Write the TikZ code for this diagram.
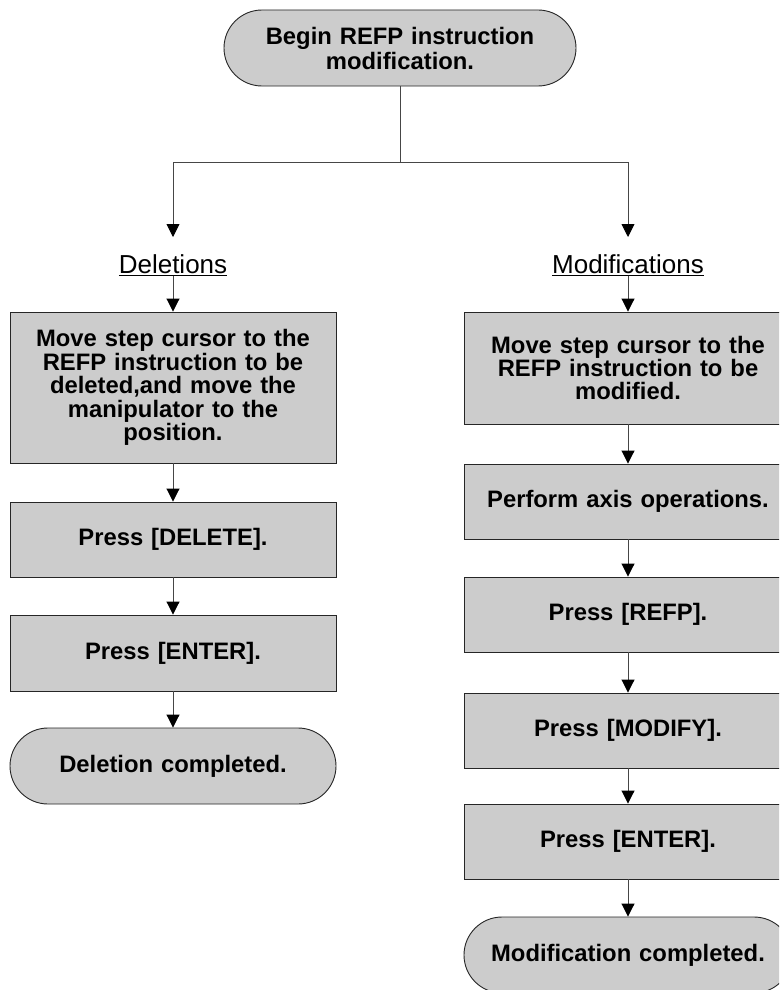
\documentclass[tikz,border=0pt]{standalone}
\usepackage{fontspec}
\setmainfont{Liberation Sans}
\usetikzlibrary{arrows.meta}
\definecolor{boxgray}{RGB}{204,204,204}
\definecolor{linegray}{RGB}{70,70,70}
\tikzset{
  stepbox/.style={draw=black!85, line width=0.9pt, fill=boxgray, align=center, inner sep=0pt,
    font=\fontsize{23.8}{23.4}\selectfont\bfseries},
  termbox/.style={stepbox, rounded corners=38pt},
  lbl/.style={inner sep=0pt, font=\fontsize{26}{28}\selectfont},
  flow/.style={draw=linegray, line width=0.9pt, -{Triangle[length=13pt,width=13pt,black]}},
  plain/.style={draw=linegray, line width=0.9pt}
}
\begin{document}
\begin{tikzpicture}[x=1pt,y=-1pt]
\clip (0,0) rectangle (779,990);
\fill[white] (0,0) rectangle (779,990);
% top
\node[termbox, minimum width=352pt, minimum height=76pt, text width=330pt,
  font=\fontsize{23.8}{25}\selectfont\bfseries] (top) at (400,48) {Begin REFP instruction\\modification.};
\coordinate (br) at (400,162);
\coordinate (bl) at (173,162);
\coordinate (bR) at (628,162);
% labels
\node[lbl] (del) at (173,265) {\underline{Deletions}};
\node[lbl] (mod) at (628,265) {\underline{Modifications}};
% left column
\node[stepbox, minimum width=326pt, minimum height=151pt, text width=310pt] (l1) at (173,387.5)
  {Move step cursor to the\\REFP instruction to be\\deleted,and move the\\manipulator to the\\position.};
\node[stepbox, minimum width=326pt, minimum height=75pt, text width=310pt] (l2) at (173,539.5) {Press [DELETE].};
\node[stepbox, minimum width=326pt, minimum height=76pt, text width=310pt] (l3) at (173,653) {Press [ENTER].};
\node[termbox, minimum width=326pt, minimum height=76pt, text width=310pt] (l4) at (173,766) {Deletion completed.};
% right column
\node[stepbox, minimum width=328pt, minimum height=112pt, text width=310pt] (r1) at (628,368)
  {Move step cursor to the\\REFP instruction to be\\modified.};
\node[stepbox, minimum width=328pt, minimum height=75pt, text width=320pt] (r2) at (628,501.5) {Perform axis operations.};
\node[stepbox, minimum width=328pt, minimum height=75pt, text width=310pt] (r3) at (628,614.5) {Press [REFP].};
\node[stepbox, minimum width=328pt, minimum height=75pt, text width=310pt] (r4) at (628,730.5) {Press [MODIFY].};
\node[stepbox, minimum width=328pt, minimum height=75pt, text width=310pt] (r5) at (628,841.5) {Press [ENTER].};
\node[termbox, minimum width=328pt, minimum height=76pt, text width=320pt] (r6) at (628,955) {Modification completed.};
% connectors
\draw[plain] (top.south) -- (br);
\draw[plain] (bl) -- (bR);
\draw[flow] (bl) -- (173,237);
\draw[flow] (bR) -- (628,237);
\draw[flow] (del.south) -- (l1.north);
\draw[flow] (mod.south) -- (r1.north);
\draw[flow] (l1) -- (l2);
\draw[flow] (l2) -- (l3);
\draw[flow] (l3) -- (l4);
\draw[flow] (r1) -- (r2);
\draw[flow] (r2) -- (r3);
\draw[flow] (r3) -- (r4);
\draw[flow] (r4) -- (r5);
\draw[flow] (r5) -- (r6);
\end{tikzpicture}
\end{document}
